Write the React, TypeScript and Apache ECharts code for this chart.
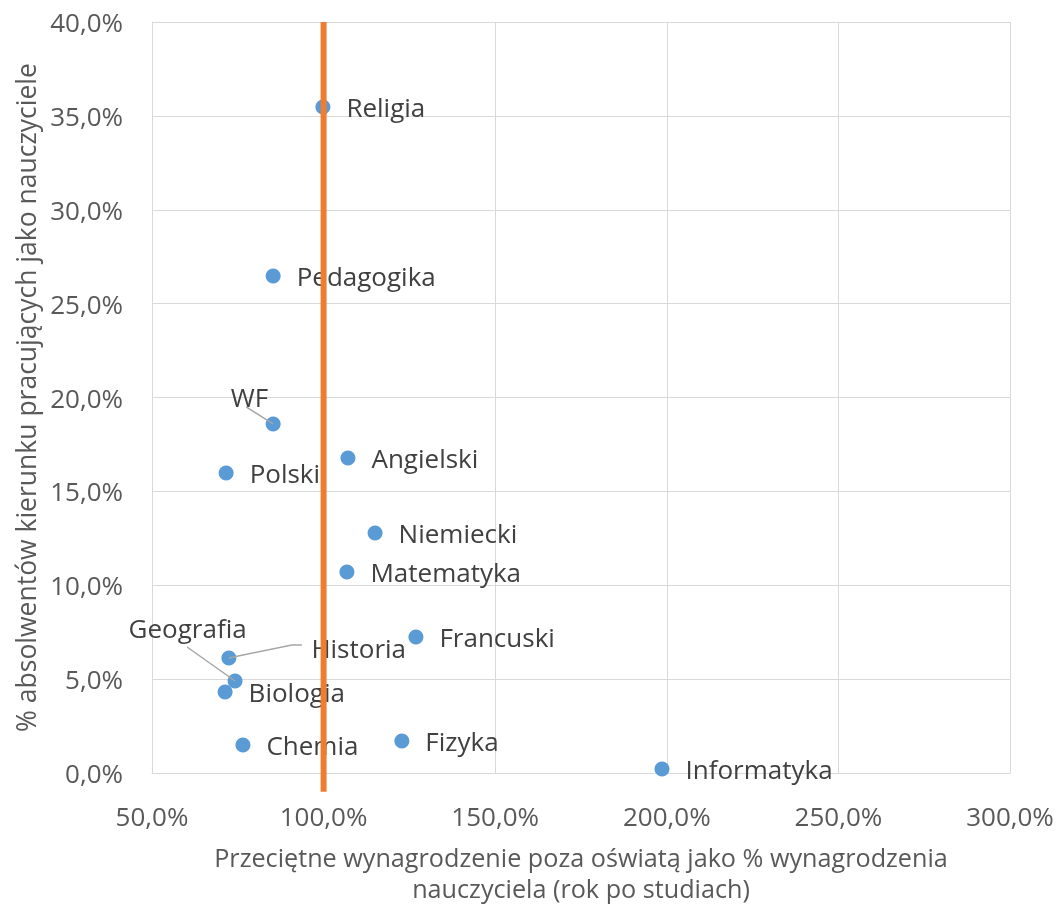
import React, { useEffect, useRef } from "react";
import * as echarts from "echarts";

const names = ["Religia", "Pedagogika", "WF", "Angielski", "Polski", "Niemiecki", "Matematyka", "Francuski", "Historia", "Geografia", "Biologia", "Chemia", "Fizyka", "Informatyka"];
const salaryPct = [99.8, 85.3, 85.3, 107.1, 71.6, 115.0, 106.8, 126.9, 72.4, 74.2, 71.3, 76.5, 122.8, 198.6];
const teacherPct = [35.47, 26.47, 18.59, 16.78, 15.98, 12.78, 10.71, 7.24, 6.13, 4.9, 4.31, 1.49, 1.7, 0.21];
const refLineX = [100, 100];
const refLineY = [-1, 40];

const xTitle = "Przeciętne wynagrodzenie poza oświatą jako % wynagrodzenia\nnauczyciela (rok po studiach)";
const yTitle = "% absolwentów kierunku pracujących jako nauczyciele";

const FONT = "'Open Sans', sans-serif";

// label displacement (px) for labels moved away from their point
const labelMoves: Record<string, [number, number]> = {
  WF: [-66, -27],
  Historia: [59, -10],
  Geografia: [-130, -53],
};
// leader line bends (px, relative to the point)
const leaderBends: Record<string, [number, number][]> = {
  WF: [[-27, -17]],
  Historia: [[63, -13], [73, -13]],
  Geografia: [[-48, -34]],
};

const fmt = (v: number) => v.toFixed(1).replace(".", ",") + "%";

export default function App() {
  const ref = useRef<HTMLDivElement>(null);
  useEffect(() => {
    if (!ref.current) return;
    const chart = echarts.init(ref.current, undefined, { renderer: "svg" });
    const data = names.map((n, i) => ({ name: n, value: [salaryPct[i], teacherPct[i]] }));
    chart.setOption({
      animation: false,
      grid: { left: 152, right: 48, top: 22, bottom: 132, containLabel: false, outerBoundsMode: "none" },
      xAxis: {
        type: "value",
        min: 50,
        max: 300,
        interval: 50,
        name: xTitle,
        nameLocation: "middle",
        nameGap: 68,
        nameTextStyle: { fontFamily: FONT, fontSize: 25.2, color: "#595959", lineHeight: 31 },
        axisLine: { show: true, lineStyle: { color: "#D9D9D9", width: 1 } },
        axisTick: { show: false },
        splitLine: { show: true, lineStyle: { color: "#D9D9D9", width: 1 } },
        axisLabel: { formatter: fmt, fontFamily: FONT, fontSize: 26, color: "#595959", margin: 30 },
      },
      yAxis: {
        type: "value",
        min: 0,
        max: 40,
        interval: 5,
        name: yTitle,
        nameLocation: "middle",
        nameGap: 112,
        nameTextStyle: { fontFamily: FONT, fontSize: 26.5, color: "#595959" },
        axisLine: { show: true, lineStyle: { color: "#D9D9D9", width: 1 } },
        axisTick: { show: false },
        splitLine: { show: true, lineStyle: { color: "#D9D9D9", width: 1 } },
        axisLabel: { formatter: fmt, fontFamily: FONT, fontSize: 26, color: "#595959", margin: 29 },
      },
      series: [
        {
          type: "scatter",
          data,
          symbolSize: 15,
          itemStyle: { color: "#5B9BD5", opacity: 1 },
          label: {
            show: true,
            position: "right",
            distance: 16,
            offset: [0, 2],
            formatter: "{b}",
            fontFamily: FONT,
            fontSize: 26,
            color: "#404040",
          },
          labelLayout: (p: any) => {
            const m = labelMoves[names[p.dataIndex]];
            if (m) return { dx: m[0], dy: m[1] };
            return {};
          },
          z: 2,
        },
        {
          type: "line",
          data: refLineX.map((x, i) => [x, refLineY[i]]),
          symbol: "none",
          clip: false,
          lineStyle: { color: "#ED7D31", width: 6, cap: "butt" },
          z: 3,
          silent: true,
        },
      ],
    });

    const graphics: any[] = [];
    names.forEach((n, i) => {
      const bends = leaderBends[n];
      if (!bends) return;
      const p = chart.convertToPixel({ seriesIndex: 0 }, [salaryPct[i], teacherPct[i]]) as number[];
      const pts = [[p[0], p[1]], ...bends.map((b) => [p[0] + b[0], p[1] + b[1]])];
      graphics.push({
        type: "polyline",
        shape: { points: pts },
        style: { stroke: "#A6A6A6", lineWidth: 1.5, fill: "none" },
        z: 10,
        silent: true,
      });
    });
    chart.setOption({ graphic: graphics });

    return () => chart.dispose();
  }, []);
  return <div ref={ref} style={{ position: "fixed", left: 0, top: 0, width: 1058, height: 905 }} />;
}
